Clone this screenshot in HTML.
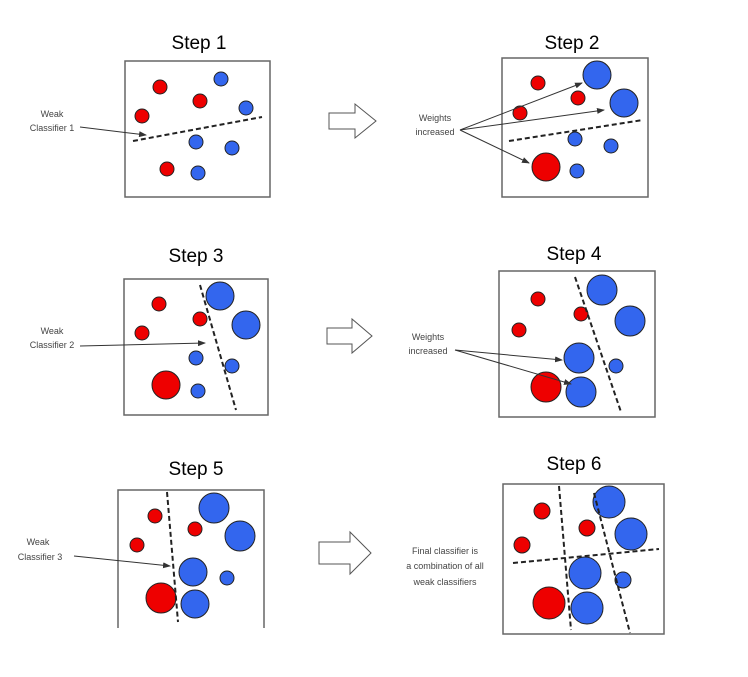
<!DOCTYPE html>
<html><head><style>body{margin:0;background:#fff}svg{display:block}</style></head><body>
<svg width="748" height="677" viewBox="0 0 748 677" xmlns="http://www.w3.org/2000/svg" font-family="'Liberation Sans',sans-serif">
<defs><marker id="a" markerWidth="8" markerHeight="6" refX="7" refY="3" orient="auto"><path d="M0,0 L8,3 L0,6z" fill="#333"/></marker></defs>
<g font-size="19" text-anchor="middle" fill="#000">
<text x="199" y="49">Step 1</text><text x="572" y="49">Step 2</text>
<text x="196" y="262">Step 3</text><text x="574" y="260">Step 4</text>
<text x="196" y="475">Step 5</text><text x="574" y="470">Step 6</text>
</g>
<g fill="#fff" stroke="#666" stroke-width="1.5">
<rect x="125" y="61" width="145" height="136"/><rect x="502" y="58" width="146" height="139"/>
<rect x="124" y="279" width="144" height="136"/><rect x="499" y="271" width="156" height="146"/>
<rect x="503" y="484" width="161" height="150"/>
</g>
<path d="M118,628 V490 H264 V628" fill="none" stroke="#666" stroke-width="1.5"/>
<g stroke="#fff" fill="#fff" stroke-width="2">
<path d="M329,113 h26 v-9 l21,17 l-21,17 v-9 h-26z" stroke="#555" stroke-width="1"/>
<path d="M327,328 h25 v-9 l20,17 l-20,17 v-9 h-25z" stroke="#555" stroke-width="1"/>
<path d="M319,542 h31 v-10 l21,21 l-21,21 v-10 h-31z" stroke="#555" stroke-width="1"/>
</g>
<g stroke="#222" stroke-width="1">
<g fill="#e00">
<circle cx="160" cy="87" r="7"/><circle cx="200" cy="101" r="7"/><circle cx="142" cy="116" r="7"/><circle cx="167" cy="169" r="7"/>
<circle cx="538" cy="83" r="7"/><circle cx="578" cy="98" r="7"/><circle cx="520" cy="113" r="7"/><circle cx="546" cy="167" r="14"/>
<circle cx="159" cy="304" r="7"/><circle cx="200" cy="319" r="7"/><circle cx="142" cy="333" r="7"/><circle cx="166" cy="385" r="14"/>
<circle cx="538" cy="299" r="7"/><circle cx="581" cy="314" r="7"/><circle cx="519" cy="330" r="7"/><circle cx="546" cy="387" r="15"/>
<circle cx="155" cy="516" r="7"/><circle cx="195" cy="529" r="7"/><circle cx="137" cy="545" r="7"/><circle cx="161" cy="598" r="15"/>
<circle cx="542" cy="511" r="8"/><circle cx="587" cy="528" r="8"/><circle cx="522" cy="545" r="8"/><circle cx="549" cy="603" r="16"/>
</g>
<g fill="#3366ee">
<circle cx="221" cy="79" r="7"/><circle cx="246" cy="108" r="7"/><circle cx="196" cy="142" r="7"/><circle cx="232" cy="148" r="7"/><circle cx="198" cy="173" r="7"/>
<circle cx="597" cy="75" r="14"/><circle cx="624" cy="103" r="14"/><circle cx="575" cy="139" r="7"/><circle cx="611" cy="146" r="7"/><circle cx="577" cy="171" r="7"/>
<circle cx="220" cy="296" r="14"/><circle cx="246" cy="325" r="14"/><circle cx="196" cy="358" r="7"/><circle cx="232" cy="366" r="7"/><circle cx="198" cy="391" r="7"/>
<circle cx="602" cy="290" r="15"/><circle cx="630" cy="321" r="15"/><circle cx="579" cy="358" r="15"/><circle cx="581" cy="392" r="15"/><circle cx="616" cy="366" r="7"/>
<circle cx="214" cy="508" r="15"/><circle cx="240" cy="536" r="15"/><circle cx="193" cy="572" r="14"/><circle cx="227" cy="578" r="7"/><circle cx="195" cy="604" r="14"/>
<circle cx="609" cy="502" r="16"/><circle cx="631" cy="534" r="16"/><circle cx="585" cy="573" r="16"/><circle cx="587" cy="608" r="16"/><circle cx="623" cy="580" r="8"/>
</g>
</g>
<g stroke="#222" stroke-width="2" stroke-dasharray="5,3" fill="none">
<path d="M133,141 L262,117"/><path d="M509,141 L643,120"/><path d="M200,285 L236,410"/>
<path d="M575,277 L621,412"/><path d="M167,492 L178,622"/>
<path d="M559,486 L571,630"/><path d="M594,493 L630,633"/><path d="M513,563 L659,549"/>
</g>
<g stroke="#333" stroke-width="1" fill="none" marker-end="url(#a)">
<path d="M80,127 L146,135"/><path d="M460,130 L582,83"/><path d="M460,130 L604,110"/><path d="M460,130 L529,163"/>
<path d="M80,346 L205,343"/><path d="M455,350 L562,360"/><path d="M455,350 L571,384"/>
<path d="M74,556 L170,566"/>
</g>
<g font-size="9" fill="#444" text-anchor="middle">
<text x="52" y="117">Weak</text><text x="52" y="131">Classifier 1</text>
<text x="435" y="121">Weights</text><text x="435" y="135">increased</text>
<text x="52" y="334">Weak</text><text x="52" y="348">Classifier 2</text>
<text x="428" y="340">Weights</text><text x="428" y="354">increased</text>
<text x="38" y="545">Weak</text><text x="40" y="560">Classifier 3</text>
<text x="445" y="554">Final classifier is</text><text x="445" y="569">a combination of all</text><text x="445" y="585">weak classifiers</text>
</g>
</svg>
</body></html>
